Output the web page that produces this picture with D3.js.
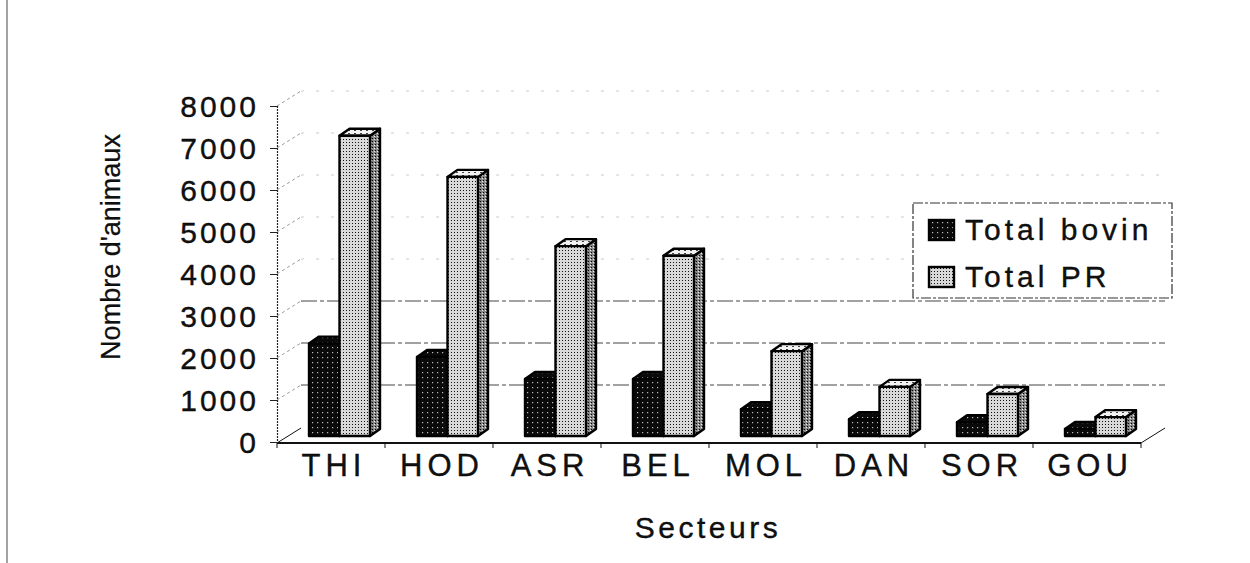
<!DOCTYPE html>
<html><head><meta charset="utf-8">
<script src="https://cdnjs.cloudflare.com/ajax/libs/d3/7.8.5/d3.min.js"></script>
<style>
html,body{margin:0;padding:0;background:#fff;}
svg{display:block;font-family:"Liberation Sans",Arial,sans-serif;}
text{stroke:#000;stroke-width:0.35px;}
</style></head>
<body>
<script>
// ---- data ----
const categories = ["THI","HOD","ASR","BEL","MOL","DAN","SOR","GOU"];
const series = ["Total bovin","Total PR"];
const bovin = [2200, 1880, 1360, 1360, 640, 400, 330, 170];
const totalPR = [7150, 6170, 4520, 4290, 2020, 1170, 1000, 450];
const yTicks = [0,1000,2000,3000,4000,5000,6000,7000,8000];
const yTitle = "Nombre d'animaux";
const xTitle = "Secteurs";

const W = 1250, H = 563;
const svg = d3.select("body").append("svg").attr("width", W).attr("height", H);

// patterns
const defs = svg.append("defs");
const pDark = defs.append("pattern").attr("id","pDark").attr("patternUnits","userSpaceOnUse").attr("width",5).attr("height",5);
pDark.append("rect").attr("width",5).attr("height",5).attr("fill","#0a0a0a");
pDark.append("rect").attr("x",2).attr("y",2).attr("width",1.2).attr("height",1.2).attr("fill","#bbb");
const pLight = defs.append("pattern").attr("id","pLight").attr("patternUnits","userSpaceOnUse").attr("width",3).attr("height",3);
pLight.append("rect").attr("width",3).attr("height",3).attr("fill","#d9d9d9");
pLight.append("rect").attr("x",1).attr("y",1).attr("width",1).attr("height",1).attr("fill","#111");
const pSide = defs.append("pattern").attr("id","pSide").attr("patternUnits","userSpaceOnUse").attr("width",3).attr("height",3);
pSide.append("rect").attr("width",3).attr("height",3).attr("fill","#888");
pSide.append("rect").attr("x",0).attr("y",0).attr("width",1).attr("height",1).attr("fill","#000");
pSide.append("rect").attr("x",2).attr("y",1).attr("width",1).attr("height",1).attr("fill","#eee");
const pTop = defs.append("pattern").attr("id","pTop").attr("patternUnits","userSpaceOnUse").attr("width",6).attr("height",3);
pTop.append("rect").attr("width",6).attr("height",3).attr("fill","#f2f2f2");
pTop.append("rect").attr("x",0).attr("y",1).attr("width",2).attr("height",1).attr("fill","#444");

// scales
const y = d3.scaleLinear().domain([0, 8000]).range([442, 106]);
const x = d3.scaleBand().domain(categories).range([277, 1141]);
const inner = d3.scaleBand().domain(series).range([29, 90]);

// 3D offsets
const wallDX = 24, wallDY = -15;   // back wall
const barDX = 3, barDY = -6;       // bar placement depth
const depX = 10, depY = -7;        // bar thickness

// outer frame line
svg.append("line").attr("x1",7).attr("x2",7).attr("y1",0).attr("y2",H)
  .attr("stroke","#666").attr("stroke-width",1.2);

// gridlines on back wall and side wall
const grid = svg.append("g");
yTicks.filter(v => v > 0).forEach(v => {
  const strong = v <= 3000;
  grid.append("line")
    .attr("x1", x.range()[0] + wallDX).attr("x2", x.range()[1] + wallDX)
    .attr("y1", y(v) + wallDY).attr("y2", y(v) + wallDY)
    .attr("stroke", strong ? "#444" : "#ccc").attr("stroke-width", 1)
    .attr("stroke-dasharray", strong ? "16,3,4,3" : "3,12");
  grid.append("line")
    .attr("x1", x.range()[0]).attr("x2", x.range()[0] + wallDX)
    .attr("y1", y(v)).attr("y2", y(v) + wallDY)
    .attr("stroke", "#999").attr("stroke-width", 1).attr("stroke-dasharray", "3,3");
});

// floor edges
const floor = svg.append("g").attr("stroke","#111").attr("fill","none");
floor.append("line").attr("x1", x.range()[0]).attr("x2", x.range()[1])
  .attr("y1", y(0)+1).attr("y2", y(0)+1).attr("stroke-width", 1.8);
floor.append("line").attr("x1", x.range()[0]).attr("y1", y(0)+1)
  .attr("x2", x.range()[0]+wallDX).attr("y2", y(0)+1+wallDY).attr("stroke-width", 1);
floor.append("line").attr("x1", x.range()[1]).attr("y1", y(0)+1)
  .attr("x2", x.range()[1]+wallDX).attr("y2", y(0)+1+wallDY).attr("stroke-width", 1);

// x boundary ticks
svg.append("g").selectAll("line").data(d3.range(categories.length+1)).join("line")
  .attr("x1", i => x.range()[0] + i*x.step()).attr("x2", i => x.range()[0] + i*x.step())
  .attr("y1", y(0)+1).attr("y2", y(0)+6).attr("stroke","#111").attr("stroke-width",1);

// y axis
const yAxis = svg.append("g").attr("transform", `translate(${x.range()[0]},0)`)
  .call(d3.axisLeft(y).tickValues(yTicks).tickSize(7).tickPadding(11).tickFormat(d3.format("d")));
yAxis.select(".domain").attr("stroke","#222").attr("stroke-width",1.2).attr("stroke-dasharray","2,1");
yAxis.selectAll(".tick line").attr("stroke","#222");
yAxis.selectAll("text").attr("font-size",30).attr("letter-spacing",3).attr("fill","#111")
  .attr("font-family","'Liberation Sans',Arial,sans-serif").attr("dy","0.36em");

// x axis labels
const xAxis = svg.append("g").attr("transform", `translate(0,${y(0)})`)
  .call(d3.axisBottom(x).tickSize(0).tickPadding(34));
xAxis.select(".domain").remove();
xAxis.selectAll("text").attr("font-size",31).attr("letter-spacing",5).attr("fill","#111")
  .attr("font-family","'Liberation Sans',Arial,sans-serif").attr("dx", 3).attr("dy","0");

// bars
const vals = {"Total bovin": bovin, "Total PR": totalPR};
const fills = {"Total bovin": "url(#pDark)", "Total PR": "url(#pLight)"};
const sideFills = {"Total bovin": "url(#pDark)", "Total PR": "url(#pSide)"};
const topFills = {"Total bovin": "url(#pDark)", "Total PR": "url(#pTop)"};
const barsG = svg.append("g");
categories.forEach((c, i) => {
  series.forEach(s => {
    const v = vals[s][i];
    const x0 = x(c) + inner(s) + barDX, x1 = x0 + inner.bandwidth();
    const yb = y(0) + barDY, yt = y(v) + barDY;
    const g = barsG.append("g").attr("stroke","#000").attr("stroke-width",2.4).attr("stroke-linejoin","round");
    g.append("path").attr("fill", sideFills[s])
      .attr("d", `M${x1},${yb}L${x1+depX},${yb+depY}L${x1+depX},${yt+depY}L${x1},${yt}Z`);
    g.append("path").attr("fill", topFills[s])
      .attr("d", `M${x0},${yt}L${x0+depX},${yt+depY}L${x1+depX},${yt+depY}L${x1},${yt}Z`);
    g.append("rect").attr("x", x0).attr("y", yt).attr("width", x1-x0).attr("height", yb-yt)
      .attr("fill", fills[s]);
  });
});

// axis titles
svg.append("text").attr("transform","translate(120,247) rotate(-90)")
  .attr("text-anchor","middle").attr("font-size",27).attr("fill","#111").style("stroke-width","0.2px").text(yTitle);
svg.append("text").attr("x", 708).attr("y", 538).attr("text-anchor","middle")
  .attr("font-size",30).attr("letter-spacing",3.5).attr("fill","#111").text(xTitle);

// legend
const lg = svg.append("g");
lg.append("rect").attr("x",913).attr("y",203).attr("width",259).attr("height",95)
  .attr("fill","#fff").attr("stroke","#333").attr("stroke-width",1.2).attr("stroke-dasharray","10,2,3,2");
series.forEach((s, i) => {
  const yy = 220 + i*47;
  lg.append("rect").attr("x",929).attr("y",yy).attr("width",25).attr("height",20)
    .attr("fill", fills[s]).attr("stroke","#000").attr("stroke-width",2.4);
  lg.append("text").attr("x",965).attr("y",yy+20).attr("font-size",30).attr("letter-spacing",4)
    .attr("fill","#111").text(s);
});
</script>
</body></html>
